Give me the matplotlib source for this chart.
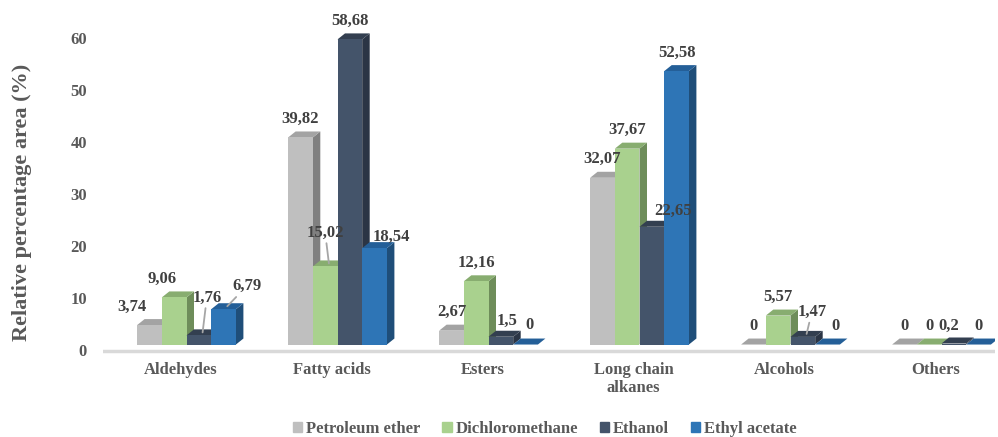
import numpy as np
import matplotlib.pyplot as plt
from matplotlib.patches import Polygon, Patch
from matplotlib.transforms import ScaledTranslation

# ---------- data ----------
categories = ["Aldehydes", "Fatty acids", "Esters", "Long chain\nalkanes", "Alcohols", "Others"]
series = ["Petroleum ether", "Dichloromethane", "Ethanol", "Ethyl acetate"]

petroleum_ether = [3.74, 39.82, 2.67, 32.07, 0, 0]
dichloromethane = [9.06, 15.02, 12.16, 37.67, 5.57, 0]
ethanol = [1.76, 58.68, 1.5, 22.65, 1.47, 0.2]
ethyl_acetate = [6.79, 18.54, 0, 52.58, 0, 0]

values = [petroleum_ether, dichloromethane, ethanol, ethyl_acetate]

# ---------- style ----------
front = ["#BFBFBF", "#A9D18E", "#44546A", "#2E75B6"]
top_c = ["#A3A3A3", "#88AD70", "#333F50", "#245F98"]
side_c = ["#808080", "#6E8D5A", "#2B3545", "#1F4E79"]

plt.rcParams["font.family"] = ["Liberation Serif", "DejaVu Serif"]
plt.rcParams["font.weight"] = "bold"

# label nudges in pixels relative to the front top edge of a bar: (dx, dy, leader)
nudge = {
    (0, 0): (-18, 18, False), (1, 0): (-12, 19, False),
    (2, 0): (8, 38, True), (3, 0): (23, 23, True),
    (1, 1): (0, 34, True), (3, 1): (17, 11, False),
    (2, 2): (6, 16, False), (3, 2): (4, 20, False),
    (2, 3): (21, 16, False),
    (2, 4): (9, 25, True), (3, 4): (8, 19, False),
    (2, 5): (-5, 18, False),
}

W, H = 998, 437
fig = plt.figure(figsize=(W / 100, H / 100), dpi=100)
ax = fig.add_axes([103 / W, 81 / H, 892 / W, 353 / H])

ppx = 151.0          # pixels per category
ppy = 5.2            # pixels per percent
w = 24.7 / ppx       # bar width
ddx = 7.5 / ppx      # 3d depth, x
ddy = 6.0 / ppy      # 3d depth, y
base = 1.05          # bars stand a bit above the floor line

x = np.arange(len(categories))
for j, vals in enumerate(values):
    xc = x + (j - 1.5) * w
    ax.bar(xc, vals, width=w, bottom=base, color=front[j], zorder=4 + 3 * j, linewidth=0)
    for i, v in enumerate(vals):
        x0, x1 = xc[i] - w / 2, xc[i] + w / 2
        t = base + v
        # top face
        ax.add_patch(Polygon([(x0, t), (x1, t), (x1 + ddx, t + ddy), (x0 + ddx, t + ddy)],
                             closed=True, color=top_c[j], lw=0, zorder=3 + 3 * j))
        # side face
        if v > 0:
            ax.add_patch(Polygon([(x1, base), (x1 + ddx, base + ddy), (x1 + ddx, t + ddy), (x1, t)],
                                 closed=True, color=side_c[j], lw=0, zorder=2 + 3 * j))
        txt = f"{v:g}".replace(".", ",")
        dx, dy, leader = nudge.get((j, i), (0, 18.5, False))
        if leader:
            ax.annotate(txt, xy=(xc[i] + ddx / 2, t + ddy / 2),
                        xytext=(dx - 3.75, dy - 3), textcoords="offset pixels",
                        ha="center", va="center", fontsize=12, color="#404040", zorder=30,
                        arrowprops=dict(arrowstyle="-", color="#A6A6A6", lw=1.3,
                                        shrinkA=0, shrinkB=0))
        else:
            ax.annotate(txt, xy=(xc[i], t), xytext=(dx, dy), textcoords="offset pixels",
                        ha="center", va="center", fontsize=12, color="#404040", zorder=30)

# floor line
ax.axhline(-0.2, color="#D9D9D9", lw=2.5, zorder=1)

ax.set_xlim(-(186.5 - 103) / ppx, (995 - 186.5) / ppx)
ax.set_ylim(-(356 - 350) / ppy, (350 - 3) / ppy)

ax.set_yticks(np.arange(0, 61, 10))
ax.set_xticks(x)
ax.set_xticklabels(categories)
ax.tick_params(axis="both", length=0, labelsize=12, labelcolor="#595959")
ax.tick_params(axis="y", pad=11.5)
ax.tick_params(axis="x", pad=4)
for lab in ax.get_xticklabels():
    lab.set_transform(lab.get_transform() + ScaledTranslation(-6 / 100, 0, fig.dpi_scale_trans))
for s in ax.spines.values():
    s.set_visible(False)

fig.text(22 / W, 1 - 202 / H, "Relative percentage area (%)", rotation=90,
         ha="center", va="center", fontsize=16, color="#595959")

handles = [Patch(color=front[j], label=series[j]) for j in range(4)]
fig.legend(handles=handles, loc="center", bbox_to_anchor=(545 / W, 1 - 429 / H), ncol=4,
           frameon=False, fontsize=12, labelcolor="#595959", handlelength=0.55, handleheight=0.55,
           handletextpad=0.25, columnspacing=1.3, borderaxespad=0)

fig.savefig("out.png", dpi=100)
